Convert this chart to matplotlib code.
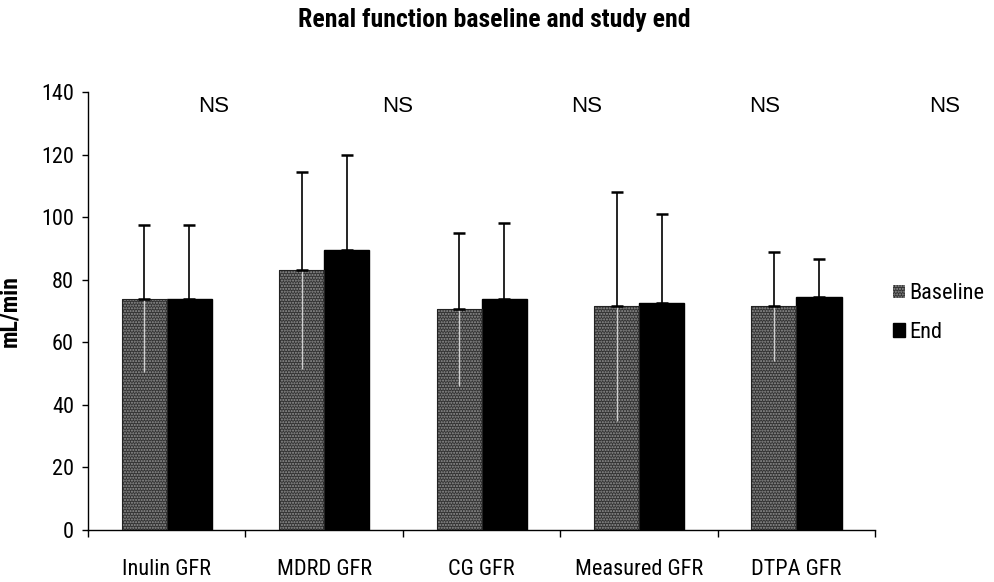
import os
import numpy as np
import matplotlib
matplotlib.use("Agg")
import matplotlib.pyplot as plt
from matplotlib import font_manager as fm
from matplotlib.font_manager import FontProperties

# GFR by method, baseline vs study end (mean, upper SD)
categories = ["Inulin GFR", "MDRD GFR", "CG GFR", "Measured GFR", "DTPA GFR"]
baseline = [74, 83, 70.5, 71.5, 71.5]
baseline_sd = [23.5, 31.5, 24.5, 36.5, 17.5]
end = [74, 89.5, 74, 72.5, 74.5]
end_sd = [23.5, 30.5, 24, 28.5, 12]
ns_positions = [0.295, 1.465, 2.67, 3.80, 4.94]


def find_narrow(bold=False):
    """Look for an installed narrow/condensed sans font file."""
    prefs = ["liberation sans narrow", "arial narrow", "roboto condensed",
             "noto sans", "open sans", "dejavu sans"]
    best = None
    for f in fm.fontManager.ttflist:
        tag = (f.name + " " + os.path.basename(f.fname)).lower()
        if not ("narrow" in tag or "condensed" in tag):
            continue
        if "semi" in tag or "extra" in tag or "ultra" in tag:
            continue
        if "mono" in tag or ("serif" in tag and "sans" not in tag):
            continue
        if f.style != "normal":
            continue
        w = f.weight if isinstance(f.weight, int) else (700 if f.weight == "bold" else 400)
        if (w >= 600) != bold or w not in (400, 700):
            continue
        rank = next((i for i, p in enumerate(prefs) if p in tag), len(prefs))
        if best is None or rank < best[0]:
            best = (rank, f.fname)
    return best[1] if best else None


reg_file = find_narrow(False)
bold_file = find_narrow(True)


def narrow_font(size, bold=False):
    path = bold_file if bold else reg_file
    if path:
        return FontProperties(fname=path, size=size)
    return FontProperties(family="Liberation Sans",
                          weight="bold" if bold else "normal", size=size - 2)


fp = narrow_font(16)
fp_title = narrow_font(18.5, bold=True)
fp_ylab = narrow_font(17, bold=True)
fp_ns = FontProperties(family="Liberation Sans", size=16)

fig = plt.figure(figsize=(9.94, 5.82), dpi=100)
ax = fig.add_axes([0.0885, 0.0893, 0.792, 0.7526])

x = np.arange(len(categories))
w = 0.286

# stippled dark-grey baseline bars: hatch layer + outline
ax.bar(x - w / 2, baseline, w, color="#333333", edgecolor="#959595",
       linewidth=0, hatch="......", zorder=2, label="Baseline")
ax.bar(x - w / 2, baseline, w, fill=False, edgecolor="#222222",
       linewidth=0.8, zorder=3)
ax.bar(x + w / 2, end, w, color="black", edgecolor="black", zorder=2,
       label="End")

# lower half of the baseline SD shows inside the grey bar
ax.vlines(x - w / 2, np.array(baseline) - np.array(baseline_sd), baseline,
          color="#cfcfcf", linewidth=1.0, zorder=4)

zeros = np.zeros(len(x))
ax.errorbar(x - w / 2, baseline, yerr=[zeros, baseline_sd], fmt="none",
            ecolor="black", elinewidth=1.2, capsize=4, capthick=1.8, zorder=4)
ax.errorbar(x + w / 2, end, yerr=[zeros, end_sd], fmt="none",
            ecolor="black", elinewidth=1.2, capsize=4, capthick=1.8, zorder=4)

for xp in ns_positions:
    ax.text(xp, 135.5, "NS", ha="center", va="center",
            fontproperties=fp_ns, clip_on=False)

ax.set_xlim(-0.5, len(categories) - 0.5)
ax.set_ylim(0, 140)
ax.set_yticks(range(0, 141, 20))
ax.set_xticks(x)
ax.set_xticklabels(categories)
ax.set_xticks(np.arange(-0.5, len(categories)), minor=True)
ax.tick_params(axis="x", which="major", length=0, pad=21)
ax.tick_params(axis="x", which="minor", length=5, width=1, direction="out")
ax.tick_params(axis="y", length=4, width=1, direction="out", pad=6)
for lab in ax.get_xticklabels() + ax.get_yticklabels():
    lab.set_fontproperties(fp)

for side in ("top", "right"):
    ax.spines[side].set_visible(False)
for side in ("left", "bottom"):
    ax.spines[side].set_linewidth(1.0)

ax.set_ylabel("mL/min", fontproperties=fp_ylab)
ax.yaxis.set_label_coords(-0.085, 0.5)

fig.text(0.497, 0.966, "Renal function baseline and study end",
         ha="center", va="center", fontproperties=fp_title)

ax.legend(loc="center left", bbox_to_anchor=(0.887, 0.462),
          bbox_transform=fig.transFigure, frameon=False, prop=fp,
          handlelength=0.55, handleheight=0.55, handletextpad=0.2,
          labelspacing=0.8, borderpad=0)

fig.savefig("out.png", dpi=100)
